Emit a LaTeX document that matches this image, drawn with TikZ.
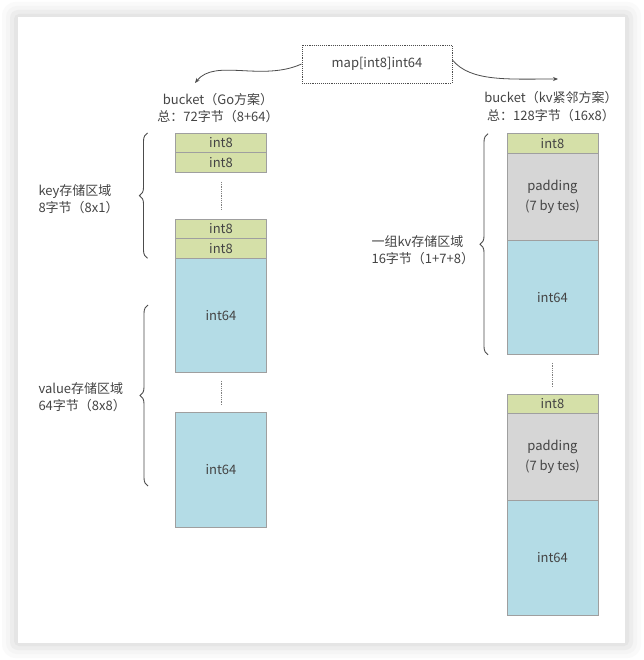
\documentclass[tikz,border=0pt]{standalone}
\usepackage{fontspec}
\setmainfont{Noto Sans CJK SC}
\usetikzlibrary{positioning,arrows.meta,decorations.pathreplacing}
\definecolor{keyfill}{HTML}{D5E0A8}
\definecolor{valfill}{HTML}{B4DCE6}
\definecolor{padfill}{HTML}{D6D6D6}
\definecolor{inkgray}{HTML}{444444}

\begin{document}
\begin{tikzpicture}[x=1pt,y=-1pt,
  cell/.style={draw=gray!75,line width=0.6pt,minimum width=91pt,inner sep=0pt,outer sep=0pt,text=inkgray,font=\fontsize{13}{20}\selectfont},
  keycell/.style={cell,fill=keyfill,minimum height=19.5pt},
  valcell/.style={cell,fill=valfill,minimum height=114.5pt},
  padcell/.style={cell,fill=padfill,minimum height=87pt,align=center},
  lbl/.style={text=inkgray,align=left,font=\fontsize{13}{17.5}\selectfont},
  gap/.style={gray,densely dotted,line width=0.8pt},
  brc/.style={decorate,decoration={brace,amplitude=8pt},line width=0.9pt,black!70},
  flow/.style={-{Stealth[length=5pt,width=4pt]},line width=0.8pt,black!70}]
			% card and shadow
			\useasboundingbox (0,0) rectangle (643,660);
			\fill[white] (0,0) rectangle (643,660);
			\fill[gray!4,rounded corners=14pt] (2,2) rectangle (641,658);
			\fill[gray!8,rounded corners=11pt] (6,6) rectangle (637,654);
			\fill[gray!14,rounded corners=8pt] (10,10) rectangle (633,650);
			\fill[gray!20,rounded corners=5pt] (14,14) rectangle (629,646);
			\fill[white] (18,17) rectangle (625,643);

			\node[draw=black!70,densely dotted,line width=0.9pt,minimum width=150pt,minimum height=38pt,text=inkgray,font=\fontsize{13}{16}\selectfont] (map) at (377,64) {map[int8]int64};
			\node[lbl,align=center] (hdgo) at (218,108) {bucket（Go方案）\\总：72字节（8+64）};
			\node[lbl,align=center] (hdkv) at (551,106.5) {bucket（kv紧邻方案）\\总：128字节（16x8）};
			\coordinate (goend) at (195,83);
			\coordinate (kvend) at (558,79);
			\draw[flow] (map.west) .. controls +(-40,18) and +(20,-25) .. (goend);
			\draw[flow] ([yshift=4pt]map.east) .. controls +(18,22) and +(-50,0) .. (kvend);

			% Go bucket
			\node[keycell] (k1) at (221,142.75) {int8};
			\node[keycell,below=0pt of k1] (k2) {int8};
			\node[keycell] (k3) at (221,229) {int8};
			\node[keycell,below=0pt of k3] (k4) {int8};
			\node[valcell,below=0pt of k4] (v1) {int64};
			\node[valcell] (v2) at (221,470) {int64};
			\draw[gap] ([yshift=-10pt]k2.south) -- ([yshift=10pt]k3.north);
			\draw[gap] ([yshift=-8pt]v1.south) -- ([yshift=7pt]v2.north);
			\draw[brc] ([xshift=-28pt]k4.south west) -- ([xshift=-28pt]k1.north west);
			\draw[brc] (148,486) -- (148,305);
			\node[lbl,anchor=west] (keylbl) at (35,199) {key存储区域\\8字节（8x1）};
			\node[lbl,anchor=west] (vallbl) at (35,397) {value存储区域\\64字节（8x8）};

			% kv bucket
			\node[keycell] (a1) at (552.5,143.5) {int8};
			\node[padcell,below=0pt of a1] (p1) {padding\\(7 by tes)};
			\node[valcell,below=0pt of p1] (b1) {int64};
			\node[keycell] (a2) at (552.5,404) {int8};
			\node[padcell,below=0pt of a2] (p2) {padding\\(7 by tes)};
			\node[valcell,below=0pt of p2] (b2) {int64};
			\draw[gap] ([yshift=-8pt]b1.south) -- ([yshift=7pt]a2.north);
			\draw[brc] ([xshift=-19pt]b1.south west) -- ([xshift=-19pt]a1.north west);
			\node[lbl,anchor=west] (kvlbl) at (368,250) {一组kv存储区域\\16字节（1+7+8）};
\end{tikzpicture}
\end{document}
